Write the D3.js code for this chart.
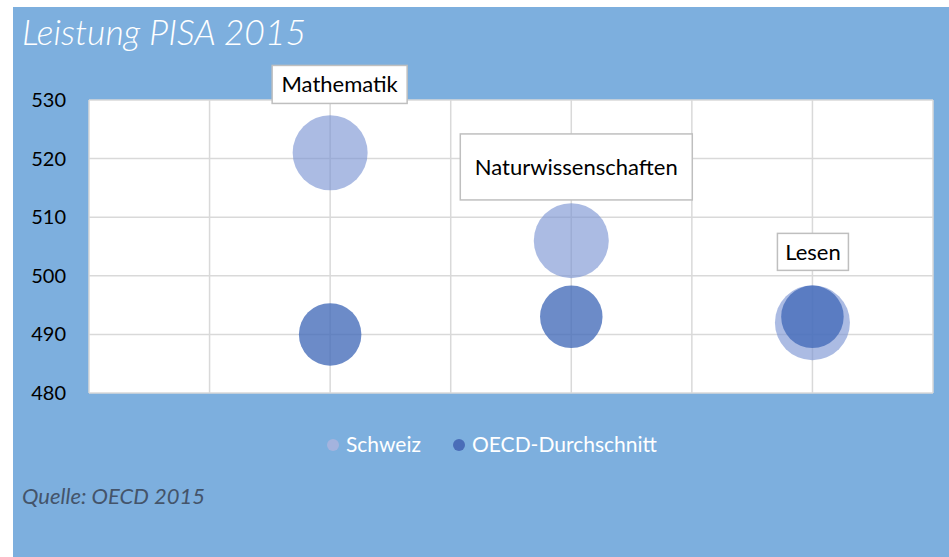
<!DOCTYPE html>
<html><head><meta charset="utf-8">
<script src="https://cdn.jsdelivr.net/npm/d3@7"></script>
<style>html,body{margin:0;padding:0;background:#fff;}svg{display:block;}</style>
</head><body>
<svg id="c" width="949" height="557"></svg>
<script>
// ---- data ----
const categories = ["Mathematik", "Naturwissenschaften", "Lesen"];
const categoryX = [1, 2, 3];
const schweiz = [521, 506, 492];
const oecd = [490, 493, 493];
const schweizSize = [144, 144, 144];
const oecdSize = [100, 100, 100];
const yTicks = [480, 490, 500, 510, 520, 530];
const xGrid = [0, 0.5, 1, 1.5, 2, 2.5, 3, 3.5];
const seriesNames = ["Schweiz", "OECD-Durchschnitt"];

// ---- layout / style ----
const W = 949, H = 557;
const plot = {l: 89, r: 933, t: 100, b: 393};
const colSchweiz = "rgba(120,145,210,0.62)";
const colOECD = "rgba(66,106,184,0.78)";
const labelBoxes = [ // offsets relative to Schweiz bubble centre
  {dx: -58, dy: -87.3, w: 135, h: 38},
  {dx: -111, dy: -106.7, w: 232, h: 66},
  {dx: -35, dy: -89.3, w: 71, h: 37}
];
const font = "Lato, 'Open Sans', sans-serif";

const svg = d3.select("#c");
svg.append("rect").attr("x", 13).attr("y", 7).attr("width", W - 13).attr("height", H - 7).attr("fill", "#7DAFDE");

const x = d3.scaleLinear().domain([0, 3.5]).range([plot.l, plot.r]);
const y = d3.scaleLinear().domain([480, 530]).range([plot.b, plot.t]);
const r = d3.scaleSqrt().domain([0, 144]).range([0, 37.5]);

svg.append("rect").attr("x", plot.l).attr("y", plot.t).attr("width", plot.r - plot.l).attr("height", plot.b - plot.t).attr("fill", "#fff");

// gridlines
const g = svg.append("g");
g.selectAll("line.h").data(yTicks).join("line")
  .attr("x1", plot.l).attr("x2", plot.r).attr("y1", d => y(d)).attr("y2", d => y(d))
  .attr("stroke", "#D9D9D9").attr("stroke-width", 1.5);
g.selectAll("line.v").data(xGrid).join("line")
  .attr("y1", plot.t).attr("y2", plot.b).attr("x1", d => x(d)).attr("x2", d => x(d))
  .attr("stroke", "#D9D9D9").attr("stroke-width", 1.5);

// y axis labels
const yAxis = d3.axisLeft(y).tickValues(yTicks).tickSize(0).tickPadding(23);
const ya = svg.append("g").attr("transform", `translate(${plot.l},0)`).call(yAxis);
ya.select(".domain").remove();
ya.selectAll("text").attr("font-family", font).attr("font-size", 20).attr("fill", "#000");

// bubbles
svg.append("g").selectAll("circle").data(schweiz).join("circle")
  .attr("cx", (d, i) => x(categoryX[i])).attr("cy", d => y(d)).attr("r", (d, i) => r(schweizSize[i]))
  .attr("fill", colSchweiz);
svg.append("g").selectAll("circle").data(oecd).join("circle")
  .attr("cx", (d, i) => x(categoryX[i])).attr("cy", d => y(d)).attr("r", (d, i) => r(oecdSize[i]))
  .attr("fill", colOECD);

// data labels
const lab = svg.append("g").selectAll("g").data(categories).join("g")
  .attr("transform", (d, i) => `translate(${x(categoryX[i]) + labelBoxes[i].dx},${y(schweiz[i]) + labelBoxes[i].dy})`);
lab.append("rect").attr("width", (d, i) => labelBoxes[i].w).attr("height", (d, i) => labelBoxes[i].h)
  .attr("fill", "#fff").attr("stroke", "#BFBFBF").attr("stroke-width", 1.5);
lab.append("text").attr("x", (d, i) => labelBoxes[i].w / 2).attr("y", (d, i) => labelBoxes[i].h / 2)
  .attr("dy", "0.36em").attr("text-anchor", "middle")
  .attr("font-family", font).attr("font-size", 22).attr("fill", "#000").text(d => d);

// title
svg.append("text").attr("x", 22).attr("y", 45).attr("font-family", font).attr("font-style", "italic")
  .attr("font-weight", 300).attr("font-size", 35.5).attr("fill", "#fff").text("Leistung PISA 2015");

// legend
const legCol = ["rgba(169,180,222,0.9)", "#4A6DB8"];
const legX = [333, 459];
const leg = svg.append("g").selectAll("g").data(seriesNames).join("g")
  .attr("transform", (d, i) => `translate(${legX[i]},445)`);
leg.append("circle").attr("r", 6).attr("fill", (d, i) => legCol[i]);
leg.append("text").attr("x", 13).attr("y", 7).attr("font-family", font).attr("font-size", 21)
  .attr("fill", "#fff").text(d => d);

// source
svg.append("text").attr("x", 22).attr("y", 504).attr("font-family", font).attr("font-style", "italic")
  .attr("font-size", 22).attr("fill", "#44546A").text("Quelle: OECD 2015");
</script>
</body></html>
